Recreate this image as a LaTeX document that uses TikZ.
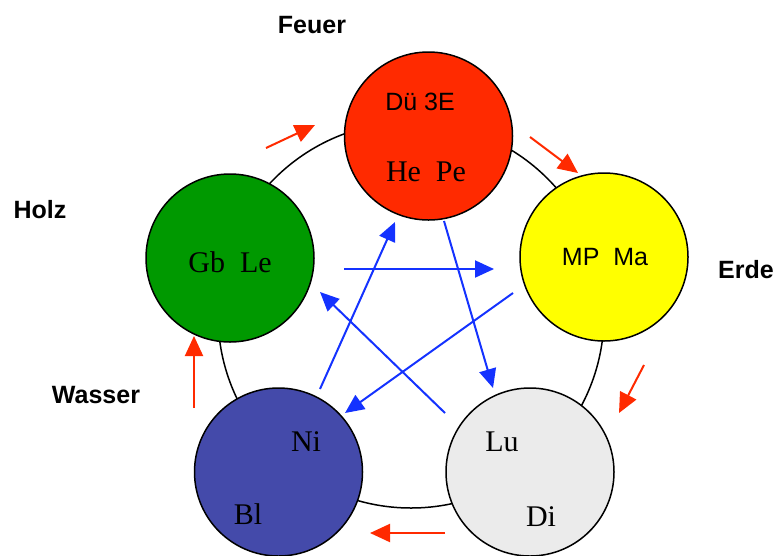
\documentclass[tikz,border=0pt]{standalone}
\usepackage{fontspec}
\setmainfont{Liberation Serif}
\setsansfont{Liberation Sans}
\usetikzlibrary{arrows.meta}
\definecolor{feuerred}{RGB}{255,42,0}
\definecolor{erdeyellow}{RGB}{255,255,0}
\definecolor{holzgreen}{RGB}{0,153,0}
\definecolor{wasserblue}{RGB}{68,74,170}
\definecolor{metallgray}{RGB}{235,235,235}
\definecolor{arrowblue}{RGB}{20,50,255}
\definecolor{arrowred}{RGB}{255,42,0}
\tikzset{
  element/.style={circle, draw=black, line width=1.5pt, minimum size=168pt, inner sep=0pt},
  serlabel/.style={anchor=base, inner sep=0pt, font=\fontsize{30}{32}\selectfont\rmfamily},
  sanlabel/.style={anchor=base, inner sep=0pt, font=\fontsize{25}{28}\selectfont\sffamily},
  phase/.style={anchor=base, inner sep=0pt, font=\fontsize{25}{28}\selectfont\sffamily\bfseries},
  redarrow/.style={draw=arrowred, line width=2pt, -{Triangle[length=20pt,width=18pt]}},
  bluearrow/.style={draw=arrowblue, line width=2pt, -{Triangle[length=19pt,width=17pt]}},
}
\begin{document}
\begin{tikzpicture}[x=1pt,y=-1pt]
\useasboundingbox (0,0) rectangle (775,555);
% big ring
\node[circle, draw=black, line width=1.5pt, minimum size=386pt, inner sep=0pt] (ring) at (411,315) {};
% elements
\node[element, fill=feuerred] (feuer) at (428.5,136) {};
\node[element, fill=erdeyellow] (erde) at (604,257) {};
\node[element, fill=holzgreen] (holz) at (230,258) {};
\node[element, fill=wasserblue] (wasser) at (278.5,472) {};
\node[element, fill=metallgray] (metall) at (530,472) {};
% inner texts
\node[sanlabel] (due) at (420,110) {Dü 3E};
\node[serlabel] (hepe) at (426,181) {He~~Pe};
\node[serlabel] (gble) at (230,272) {Gb~~Le};
\node[sanlabel] (mpma) at (605,265) {MP~~Ma};
\node[serlabel] (ni) at (306,451) {Ni};
\node[serlabel] (bl) at (248,524) {Bl};
\node[serlabel] (lu) at (502,451) {Lu};
\node[serlabel] (di) at (541,526) {Di};
% phase labels
\node[phase] (lfeuer) at (312,33) {Feuer};
\node[phase] (lholz) at (40,218) {Holz};
\node[phase] (lerde) at (746,278) {Erde};
\node[phase] (lwasser) at (96,403) {Wasser};
% red arrow end points
\coordinate (r1s) at (266,148); \coordinate (r1e) at (315,125);
\coordinate (r2s) at (530,137); \coordinate (r2e) at (578,173);
\coordinate (r3s) at (644,365); \coordinate (r3e) at (619,413);
\coordinate (r4s) at (445,533); \coordinate (r4e) at (370,533);
\coordinate (r5s) at (194,408); \coordinate (r5e) at (194,336);
\draw[redarrow] (r1s) -- (r1e);
\draw[redarrow] (r2s) -- (r2e);
\draw[redarrow] (r3s) -- (r3e);
\draw[redarrow] (r4s) -- (r4e);
\draw[redarrow] (r5s) -- (r5e);
% blue arrow end points
\coordinate (b1s) at (344,269); \coordinate (b1e) at (494,269);
\coordinate (b2s) at (320,389); \coordinate (b2e) at (395,222);
\coordinate (b3s) at (444,221); \coordinate (b3e) at (493,388);
\coordinate (b4s) at (513,293); \coordinate (b4e) at (345,413);
\coordinate (b5s) at (445,413); \coordinate (b5e) at (320,292);
\draw[bluearrow] (b1s) -- (b1e);
\draw[bluearrow] (b2s) -- (b2e);
\draw[bluearrow] (b3s) -- (b3e);
\draw[bluearrow] (b4s) -- (b4e);
\draw[bluearrow] (b5s) -- (b5e);
\end{tikzpicture}
\end{document}
